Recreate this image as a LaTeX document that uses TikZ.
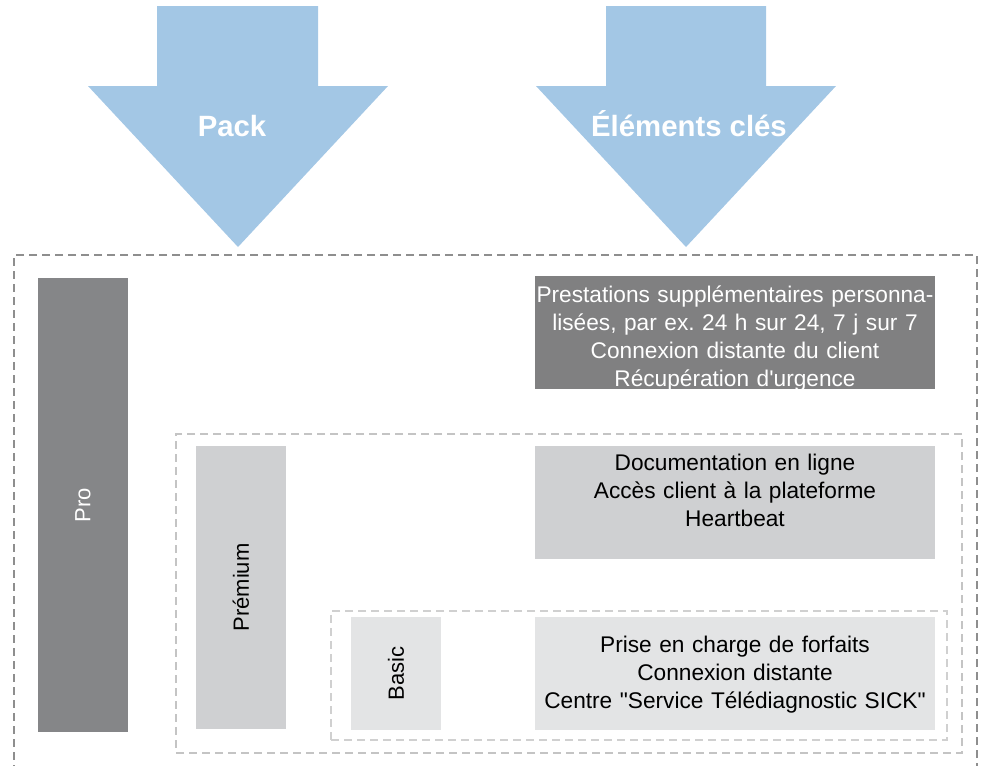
\documentclass[tikz,border=0pt]{standalone}
\usepackage{fontspec}
\setmainfont{Liberation Sans}[Ligatures=TeXOff]
\usepackage{tikz}

\definecolor{arrowblue}{HTML}{A3C7E5}
\definecolor{progray}{HTML}{858688}
\definecolor{protextgray}{HTML}{808081}
\definecolor{premgray}{HTML}{CFD0D2}
\definecolor{basicgray}{HTML}{E3E4E5}
\definecolor{outerdash}{HTML}{8E8E8E}
\definecolor{innerdash}{HTML}{C4C4C4}

\tikzstyle{frame} = [rectangle, dash pattern=on 6pt off 3.75pt, inner sep=0pt]
\tikzstyle{bar} = [rectangle, rotate=90, minimum height=67.5pt, inner sep=0pt, font=\fontsize{16.5}{20}\selectfont]
\tikzstyle{keybox} = [rectangle, minimum width=300pt, minimum height=84.75pt, inner sep=0pt]
\tikzstyle{keytext} = [text width=300pt, align=center, inner sep=0pt, font=\fontsize{17}{21}\selectfont]
\tikzstyle{arrowlabel} = [text=white, font=\fontsize{22}{26}\selectfont\bfseries]

\begin{document}
\frenchspacing
\begin{tikzpicture}[x=0.75pt, y=-0.75pt]
  \useasboundingbox (0,0) rectangle (984,765);

  % big arrows on top
  \fill[arrowblue] (157,6) -- (318,6) -- (318,86) -- (388,86) -- (238,247) -- (88,86) -- (157,86) -- cycle;
  \fill[arrowblue] (606,6) -- (766,6) -- (766,86) -- (836,86) -- (686,247) -- (536,86) -- (606,86) -- cycle;
  \node (pack) [arrowlabel] at (232,126) {Pack};
  \node (elements) [arrowlabel] at (689,124) {Éléments clés};

  % dashed frames
  \node (proframe) [frame, draw=outerdash, line width=1.5pt, minimum width=722.25pt, minimum height=386.25pt] at (495.5,512.5) {};
  \node (premframe) [frame, draw=innerdash, line width=1.1pt, minimum width=589.5pt, minimum height=239.25pt] at (569,593.5) {};
  \node (basicframe) [frame, draw=innerdash!80, line width=1.1pt, minimum width=462pt, minimum height=96.75pt] at (639,675.5) {};

  % pack bars
  \node (pro) [bar, fill=progray, text=white, minimum width=340.5pt] at (83,505) {Pro};
  \node (prem) [bar, fill=premgray, minimum width=212.25pt] at (241,587.5) {Prémium};
  \node (basic) [bar, fill=basicgray, minimum width=84.75pt] at (396,673.5) {Basic};

  % key elements
  \node (probox) [keybox, fill=protextgray] at (735,332.5) {};
  \node (premboxx) [keybox, fill=premgray] at (735,502.5) {};
  \node (basicbox) [keybox, fill=basicgray] at (735,673.5) {};

  \node (protext) [keytext, text=white] at (735,338.5) {Prestations supplémentaires personna-\\lisées, par ex. 24 h sur 24, 7 j sur 7\\Connexion distante du client\\Récupération d'urgence};
  \node (premtext) [keytext] at (735,490) {Documentation en ligne\\Accès client à la plateforme\\Heartbeat};
  \node (basictext) [keytext] at (735,675) {Prise en charge de forfaits\\Connexion distante\\Centre "Service Télédiagnostic SICK"};
\end{tikzpicture}
\end{document}
